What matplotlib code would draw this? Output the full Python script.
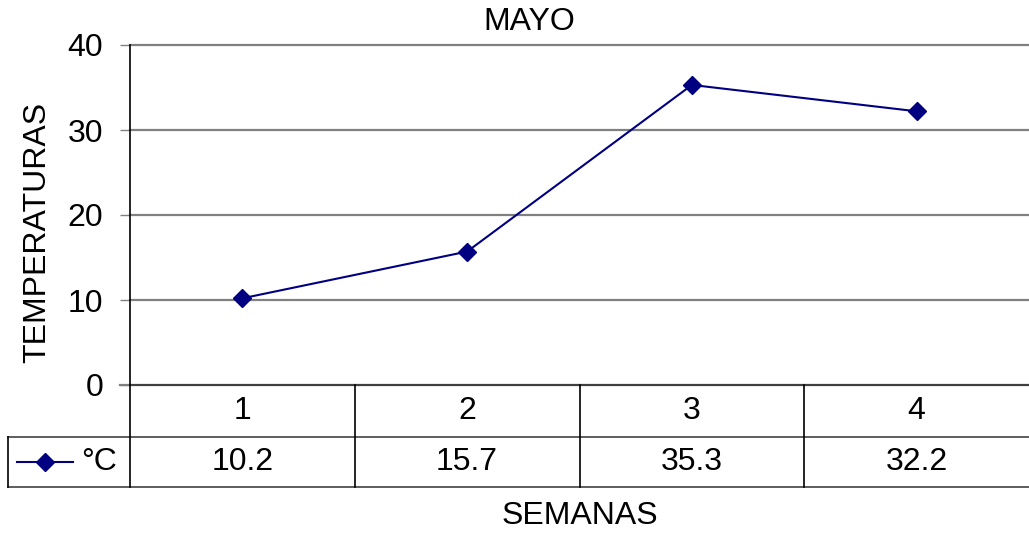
import matplotlib
matplotlib.use('Agg')
from matplotlib import pyplot as plt
from matplotlib.lines import Line2D

semanas = [1, 2, 3, 4]
temperaturas = [10.2, 15.7, 35.3, 32.2]
valores_txt = ['10.2', '15.7', '35.3', '32.2']
yticks = [0, 10, 20, 30, 40]

plt.rcParams['font.family'] = ['Liberation Sans', 'DejaVu Sans']
fs = 23
navy = '#000080'
gris = '#808080'

W, H = 1029, 535
fig = plt.figure(figsize=(W / 100, H / 100), dpi=100)
ax = fig.add_axes([130 / W, 1 - 385 / H, 899 / W, 340 / H])

ax.plot(semanas, temperaturas, color=navy, lw=1.5, marker='D', ms=9.5,
        markerfacecolor=navy, markeredgecolor=navy, clip_on=False, zorder=5)

ax.set_xlim(0.5, 4.5)
ax.set_ylim(0, 40)
ax.set_yticks(yticks)
ax.set_yticklabels([str(t) for t in yticks], fontsize=fs)
ax.set_xticks([])
for t in yticks[1:]:
    ax.axhline(t, color=gris, lw=1.6, zorder=1, clip_on=False)
for s in ['top', 'right', 'bottom']:
    ax.spines[s].set_visible(False)
ax.spines['left'].set_color('black')
ax.spines['left'].set_linewidth(1.2)
ax.tick_params(axis='y', length=7.2, width=1.0, color=gris, pad=12)

# data table under the plot
tr = ax.get_xaxis_transform()
px = 1 / 340
r1 = -52 * px
r2 = -102 * px
x_leg = 0.5 - 122 / 224.75
ax.plot([0.5, 4.5 + 0.02], [0, 0], color='#404040', lw=1.6, transform=tr, clip_on=False)
ax.plot([0.5 - 10 / 224.75, 0.5], [0, 0], color=gris, lw=1.6, transform=tr, clip_on=False)
ax.plot([x_leg, 4.5 + 0.02], [r1, r1], color='#505050', lw=1.3, transform=tr, clip_on=False)
ax.plot([x_leg, 4.5 + 0.02], [r2, r2], color='#505050', lw=1.3, transform=tr, clip_on=False)
ax.plot([x_leg, x_leg], [r1, r2], color='black', lw=1.2, transform=tr, clip_on=False)
for xb in [0.5, 1.5, 2.5, 3.5]:
    ax.plot([xb, xb], [0, r2], color='black', lw=1.2, transform=tr, clip_on=False)

for s, v in zip(semanas, valores_txt):
    ax.text(s, r1 / 2, str(s), transform=tr, ha='center', va='center', fontsize=fs)
    ax.text(s, (r1 + r2) / 2, v, transform=tr, ha='center', va='center', fontsize=fs)

# legend key in table
ly = (r1 + r2) / 2
lx0 = 0.5 - 113 / 224.75
lx1 = 0.5 - 57 / 224.75
ax.add_line(Line2D([lx0, lx1], [ly, ly], color=navy, lw=1.5, transform=tr, clip_on=False))
ax.add_line(Line2D([(lx0 + lx1) / 2], [ly], color=navy, marker='D', ms=9.5, transform=tr,
                   clip_on=False))
ax.text(0.5 - 49 / 224.75, ly, '°C', transform=tr, ha='left', va='center', fontsize=fs)

fig.text(529 / W, 1 - 22 / H, 'MAYO', ha='center', va='center', fontsize=fs)
fig.text(580 / W, 1 - 516 / H, 'SEMANAS', ha='center', va='center', fontsize=fs)
fig.text(37 / W, 1 - 232 / H, 'TEMPERATURAS', ha='center', va='center', fontsize=fs,
         rotation=90)

fig.savefig('out.png', dpi=100)
